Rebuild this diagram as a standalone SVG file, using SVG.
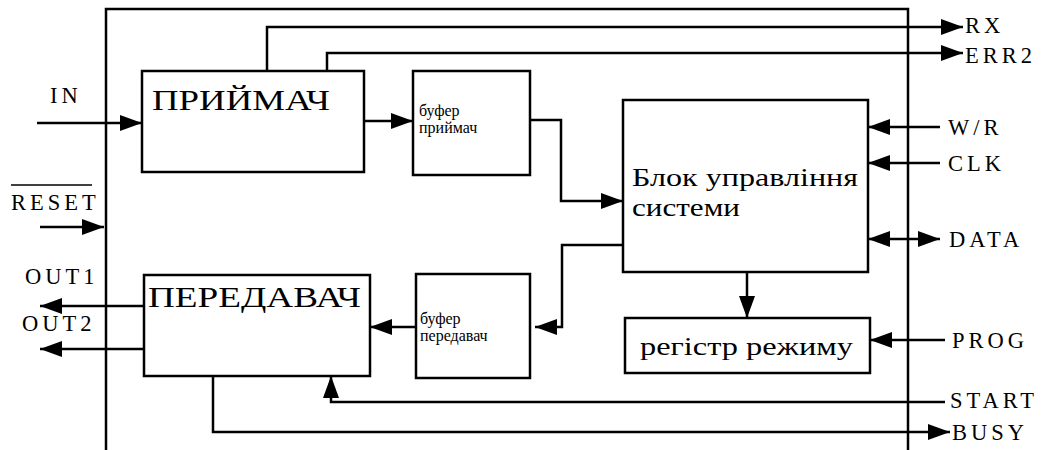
<svg xmlns="http://www.w3.org/2000/svg" width="1042" height="450" viewBox="0 0 1042 450">
  <defs>
    <marker id="arr" viewBox="0 0 22 16" refX="22" refY="8" markerWidth="22" markerHeight="16" markerUnits="userSpaceOnUse" orient="auto-start-reverse">
      <path d="M0,0 L22,8 L0,16 Z" fill="#000"/>
    </marker>
  </defs>
  <style>
    .box { fill: #fff; stroke: #000; stroke-width: 2.5; }
    .wire { fill: none; stroke: #000; stroke-width: 2.5; }
    text { font-family: 'Liberation Serif', 'DejaVu Serif', serif; fill: #000; }
    .pin { font-size: 22.5px; letter-spacing: 4px; }
    .big { font-size: 30px; }
    .mid { font-size: 25px; }
    .small { font-size: 16px; }
  </style>
  <rect width="1042" height="450" fill="#fff"/>

  <!-- chip outline (open at the bottom) -->
  <path class="wire" d="M106,450 V9 H908 V450"/>

  <g id="receiver">
    <rect class="box" x="142" y="71" width="222" height="101"/>
    <text class="big" x="152" y="110" textLength="178" lengthAdjust="spacingAndGlyphs">ПРИЙМАЧ</text>
  </g>

  <g id="rx-buffer">
    <rect class="box" x="413" y="71" width="117" height="104"/>
    <text class="small" x="419" y="116">буфер</text>
    <text class="small" x="419" y="133">приймач</text>
  </g>

  <g id="control">
    <rect class="box" x="623" y="100" width="245" height="172"/>
    <text class="mid" x="632" y="186" textLength="226" lengthAdjust="spacingAndGlyphs">Блок управління</text>
    <text class="mid" x="632" y="216" textLength="108" lengthAdjust="spacingAndGlyphs">системи</text>
  </g>

  <g id="transmitter">
    <rect class="box" x="144" y="275" width="226" height="101"/>
    <text class="big" x="148" y="307" textLength="213" lengthAdjust="spacingAndGlyphs">ПЕРЕДАВАЧ</text>
  </g>

  <g id="tx-buffer">
    <rect class="box" x="416" y="274" width="114" height="104"/>
    <text class="small" x="420" y="324">буфер</text>
    <text class="small" x="420" y="341">передавач</text>
  </g>

  <g id="mode-register">
    <rect class="box" x="625" y="318" width="245" height="55"/>
    <text class="mid" x="640" y="355" textLength="213" lengthAdjust="spacingAndGlyphs">регістр режиму</text>
  </g>

  <g id="connectors">
    <!-- inputs on the left -->
    <path class="wire" d="M37,123 H142" marker-end="url(#arr)"/>
    <path class="wire" d="M40,227 H104" marker-end="url(#arr)"/>
    <!-- outputs on the left -->
    <path class="wire" d="M144,306 H40" marker-end="url(#arr)"/>
    <path class="wire" d="M144,349 H40" marker-end="url(#arr)"/>
    <!-- receiver status lines -->
    <path class="wire" d="M267,71 V27 H963" marker-end="url(#arr)"/>
    <path class="wire" d="M327,71 V53 H963" marker-end="url(#arr)"/>
    <!-- receive data path -->
    <path class="wire" d="M364,121 H413" marker-end="url(#arr)"/>
    <path class="wire" d="M530,120 H561 V201 H623" marker-end="url(#arr)"/>
    <!-- transmit data path -->
    <path class="wire" d="M623,245 H562 V327 H535" marker-end="url(#arr)"/>
    <path class="wire" d="M416,327 H370" marker-end="url(#arr)"/>
    <!-- control to mode register -->
    <path class="wire" d="M747,272 V318" marker-end="url(#arr)"/>
    <!-- inputs on the right -->
    <path class="wire" d="M940,127 H868" marker-end="url(#arr)"/>
    <path class="wire" d="M940,163 H868" marker-end="url(#arr)"/>
    <path class="wire" d="M868,239 H940" marker-start="url(#arr)" marker-end="url(#arr)"/>
    <path class="wire" d="M945,340 H870" marker-end="url(#arr)"/>
    <!-- start / busy -->
    <path class="wire" d="M945,402 H331 V376" marker-end="url(#arr)"/>
    <path class="wire" d="M213,376 V432 H950" marker-end="url(#arr)"/>
  </g>

  <g id="pins">
    <text class="pin" x="50" y="103">IN</text>
    <text class="pin" x="11" y="210">RESET</text>
    <line x1="11" y1="185" x2="92" y2="185" stroke="#000" stroke-width="1.5"/>
    <text class="pin" x="25" y="284">OUT1</text>
    <text class="pin" x="22" y="331">OUT2</text>
    <text class="pin" x="965" y="33">RX</text>
    <text class="pin" x="965" y="63">ERR2</text>
    <text class="pin" x="948" y="135">W/R</text>
    <text class="pin" x="948" y="171">CLK</text>
    <text class="pin" x="949" y="247">DATA</text>
    <text class="pin" x="952" y="348">PROG</text>
    <text class="pin" x="950" y="408">START</text>
    <text class="pin" x="952" y="440">BUSY</text>
  </g>
</svg>
